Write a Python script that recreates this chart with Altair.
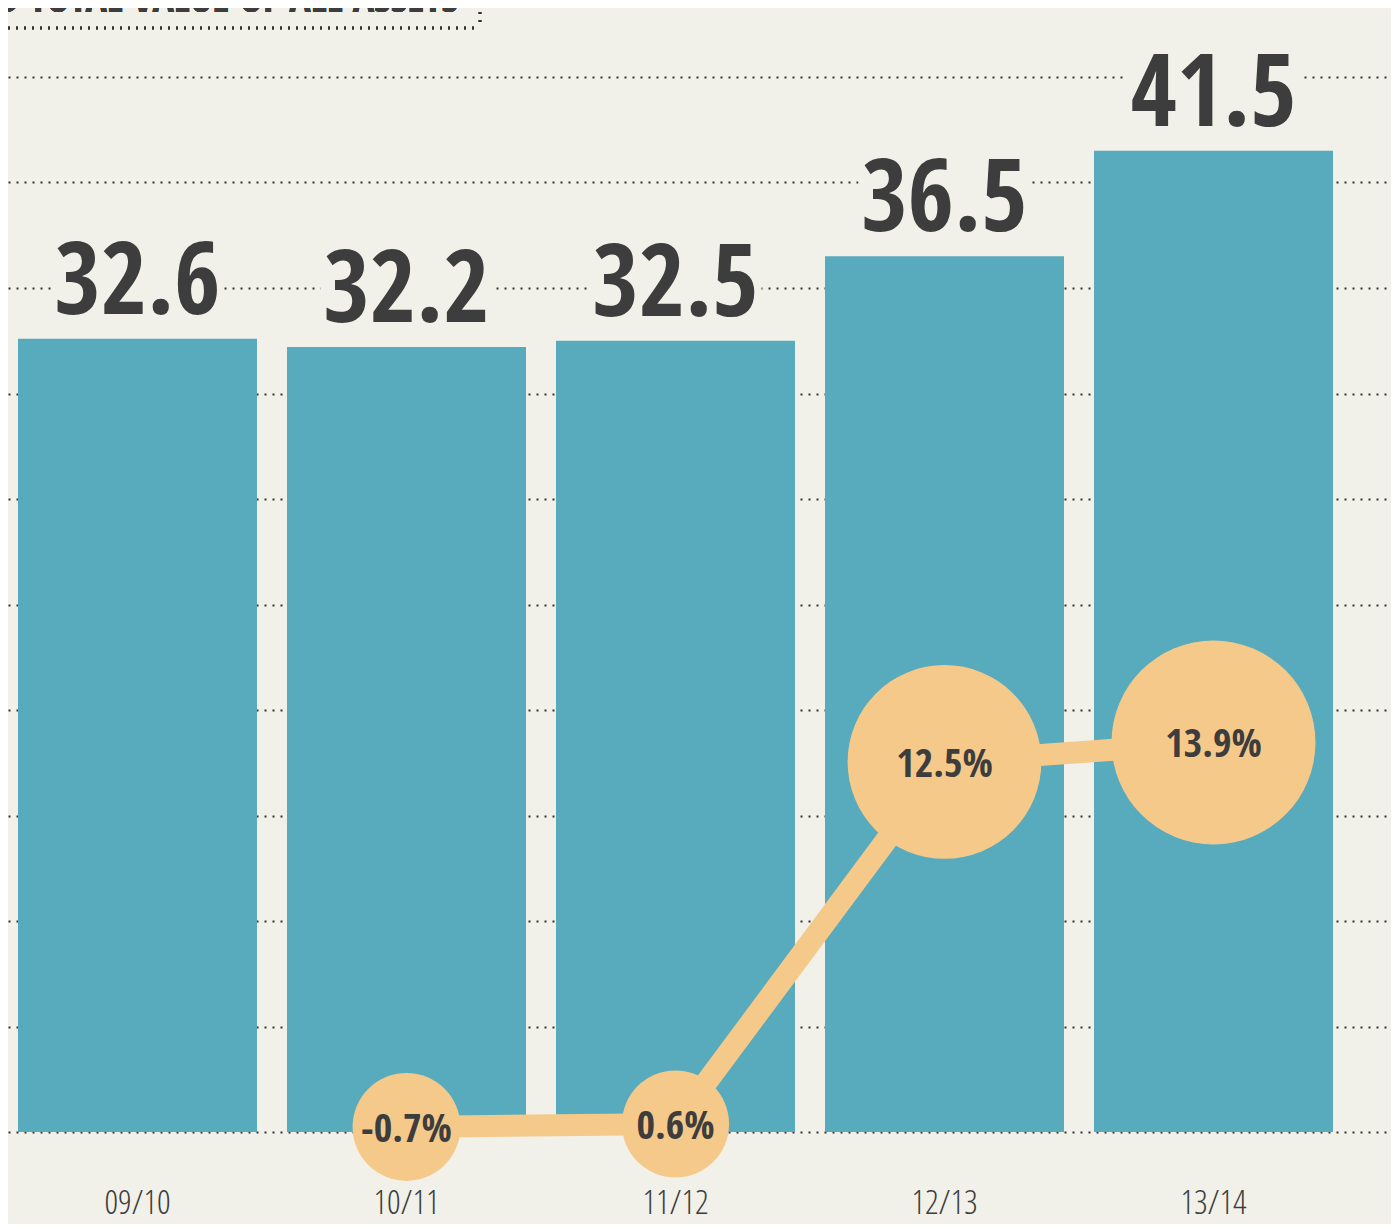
import altair as alt
import pandas as pd

# ---- data ----
periods = ["09/10", "10/11", "11/12", "12/13", "13/14"]
assets = [32.6, 32.2, 32.5, 36.5, 41.5]

pct_periods = ["10/11", "11/12", "12/13", "13/14"]
pct_change = [-0.7, 0.6, 12.5, 13.9]
pct_labels = ["-0.7%", "0.6%", "12.5%", "13.9%"]
# vertical placement of each bubble, read on the asset axis
pct_level = [-4.76, -4.62, 12.54, 13.46]

grid_values = [-5, 0, 5, 10, 15, 20, 25, 30, 35, 40, 45]
title_text = "D TOTAL VALUE OF ALL ASSETS"

# ---- styles ----
BG = "#f2f1e9"
TEAL = "#58aabd"
ORANGE = "#f5c98a"
INK = "#3d3d3d"
NARROW = "'Noto Sans ExtraCondensed', 'Open Sans Condensed', 'Noto Sans Condensed', 'DejaVu Sans Condensed', sans-serif"
THIN = "'Open Sans Condensed Light', 'Noto Sans ExtraCondensed Light', 'Roboto Condensed', 'DejaVu Sans Condensed', sans-serif"

df_a = pd.DataFrame({"period": periods, "assets": assets,
                     "label": [f"{v:.1f}" for v in assets]})
df_p = pd.DataFrame({"period": pct_periods, "pct": pct_change,
                     "label": pct_labels, "level": pct_level})

xscale = alt.Scale(domain=periods, paddingInner=0.1115, paddingOuter=0.1264, align=0.147)
xaxis = alt.Axis(title=None, domain=False, ticks=False, labelFont=THIN, labelFontWeight=300,
                 labelFontSize=34, labelColor=INK, labelPadding=54, labelAngle=0)
yscale = alt.Scale(domain=[-5, 45], range=[1124, 69], nice=False, zero=False)
yaxis = alt.Axis(values=grid_values, grid=True, labels=False, ticks=False, domain=False,
                 title=None, gridDash=[2, 6], gridColor="#333333", gridWidth=2)


def X(field):
    return alt.X(field, type="nominal", scale=xscale, axis=xaxis, sort=periods)


def Y(field):
    return alt.Y(field, type="quantitative", scale=yscale, axis=yaxis)


bars = alt.Chart(df_a).mark_bar(color=TEAL).encode(
    x=X("period"), y=Y("assets"), y2=alt.datum(-5)
)

knock = alt.Chart(df_a).mark_bar(color=BG, size=172, yOffset=-106, y2Offset=-18).encode(
    x=X("period"), y=Y("assets"), y2=alt.Y2("assets")
)

big = alt.Chart(df_a).mark_text(font=NARROW, fontSize=100, baseline="alphabetic",
                                 dy=-25, color=INK).encode(
    x=X("period"), y=Y("assets"), text="label"
)

line = alt.Chart(df_p).mark_line(color=ORANGE, strokeWidth=22).encode(
    x=X("period"), y=Y("level")
)

bubbles = alt.Chart(df_p).transform_calculate(
    sz="pow(2 * (51.4 + 3.64 * abs(datum.pct)), 2)"
).mark_point(filled=True, shape="circle", opacity=1, color=ORANGE).encode(
    x=X("period"), y=Y("level"), size=alt.Size("sz:Q", scale=None, legend=None)
)

pct_text = alt.Chart(df_p).mark_text(font=NARROW, fontWeight="bold", fontSize=40,
                                     baseline="middle", dy=3, color=INK).encode(
    x=X("period"), y=Y("level"), text="label"
)

title = alt.Chart(df_a).mark_text(font=NARROW, fontWeight="bold", fontSize=40,
                                  align="right", baseline="alphabetic", color=INK).encode(
    x=alt.value(450), y=alt.value(4), text=alt.value(title_text)
)

box_bottom = alt.Chart(df_a).mark_rule(color="#333333", strokeWidth=2.5, strokeDash=[2, 6]).encode(
    x=alt.value(-8), x2=alt.value(472), y=alt.value(20)
)
box_right = alt.Chart(df_a).mark_rule(color="#333333", strokeWidth=2.5, strokeDash=[2, 6]).encode(
    x=alt.value(472), y=alt.value(-12), y2=alt.value(20)
)

chart = alt.layer(bars, knock, big, line, bubbles, pct_text, title, box_bottom, box_right).properties(
    width=1383, height=1124,
    autosize=alt.AutoSizeParams(type="none"),
    padding={"left": 0, "top": 0, "right": 0, "bottom": 92},
    background=BG,
).configure_view(stroke=None)

chart.save("out.html", embed_options={"renderer": "svg", "actions": False})
